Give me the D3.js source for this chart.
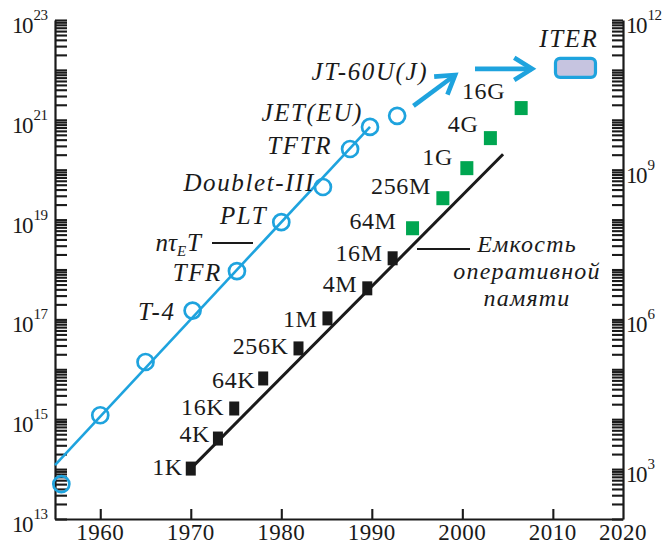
<!DOCTYPE html>
<html>
<head>
<meta charset="utf-8">
<script src="https://cdn.jsdelivr.net/npm/d3@7"></script>
<style>
  body { margin: 0; background: #fff; }
  svg text { font-family: "Liberation Serif", "Times New Roman", Times, serif; fill: #1a1a1a; }
</style>
</head>
<body>
<svg id="chart" width="664" height="546"></svg>
<script>
// ---- Fusion: triple product nτE·T of tokamaks by year ----
const fusionYears  = [1955.7, 1960, 1965, 1970.2, 1975.1, 1980, 1984.6, 1987.6, 1989.8, 1992.8];
const fusionValues = [5e13, 1.2e15, 1.4e16, 1.5e17, 9.3e17, 8.9e18, 4.5e19, 2.6e20, 7.2e20, 1.2e21];
const fusionNames  = ["", "", "", "T-4", "TFR", "PLT", "Doublet-III", "TFTR", "JET(EU)", "JT-60U(J)"];
const fusionTrendYears  = [1955, 1989.8];
const fusionTrendValues = [1.2e14, 7.2e20];

// Projection towards ITER
const forecastYears  = [[1994.6, 1999.2], [2001.4, 2007.7]];
const forecastValues = [[1.9e21, 7.9e21], [1.05e22, 1.05e22]];
const iterYear = 2012.5;
const iterValue = 1.1e22;

// ---- Memory: DRAM chip capacity (bits) by year ----
const memoryYears  = [1970, 1973, 1974.8, 1978, 1981.9, 1985.1, 1989.5, 1992.3, 1994.5, 1997.85, 2000.5, 2003.1, 2006.5];
const memoryLabels = ["1K", "4K", "16K", "64K", "256K", "1M", "4M", "16M", "64M", "256M", "1G", "4G", "16G"];
const memoryBits   = [1024, 4096, 16384, 65536, 262144, 1048576, 4194304, 16777216,
                      67108864, 268435456, 1073741824, 4294967296, 17179869184];
const memoryTrendYears  = [1970, 2004.5];
const memoryTrendValues = [1024, 2.04e9];

// ---- Axis ticks ----
const yearTicks  = [1960, 1970, 1980, 1990, 2000, 2010, 2020];
const leftLabelExps  = [13, 15, 17, 19, 21, 23];
const rightLabelExps = [3, 6, 9, 12];

// ---- Layout ----
const BLUE = "#1ea3de", GREEN = "#00a651", INK = "#1a1a1a";
const SERIF = '"Liberation Serif", "Times New Roman", Times, serif';
const svg = d3.select("#chart");
const x  = d3.scaleLinear().domain([1955, 2017.75]).range([55, 623]);
const xLabel = x.copy().clamp(true);
const yL = d3.scaleLog().domain([1e13, 1e23]).range([519, 20]);
const yR = d3.scaleLog().domain([1e2, 1e12]).range([519, 20]);
const [x0, x1] = x.range();

// log minor ticks for a decade range
function logTicks(lo, hi) {
  const out = [];
  for (let e = lo; e < hi; e++) for (let m = 1; m <= 9; m++) out.push(m * Math.pow(10, e));
  out.push(Math.pow(10, hi));
  return out;
}

// Left axis
const leftAxis = svg.append("g").attr("transform", `translate(${x0},0)`)
  .call(d3.axisRight(yL).tickValues(logTicks(13, 23)).tickSizeInner(12).tickSizeOuter(0).tickFormat(""));
// Right axis
const rightAxis = svg.append("g").attr("transform", `translate(${x1},0)`)
  .call(d3.axisLeft(yR).tickValues(logTicks(2, 12)).tickSizeInner(11).tickSizeOuter(0).tickFormat(""));
// Bottom axis
const bottomAxis = svg.append("g").attr("transform", `translate(0,${yL.range()[0]})`)
  .call(d3.axisTop(x).tickValues(yearTicks.filter(v => v <= x.domain()[1])).tickSizeInner(10).tickSizeOuter(0).tickFormat(""));

[leftAxis, rightAxis, bottomAxis].forEach(g => {
  g.attr("font-family", SERIF);
  g.select(".domain").attr("stroke", INK).attr("stroke-width", 2.2);
  g.selectAll(".tick line").attr("stroke", INK).attr("stroke-width", 2.1);
});

// Year labels
svg.append("g").selectAll("text").data(yearTicks).join("text")
  .attr("x", d => xLabel(d)).attr("y", 540)
  .attr("text-anchor", "middle").attr("font-size", 23).attr("letter-spacing", 0.5)
  .text(d => d);

// Power-of-ten labels
function powerLabel(g, xPos, yPos, exp) {
  const t = g.append("text").attr("x", xPos).attr("y", yPos + 13);
  t.append("tspan").attr("font-size", 23).attr("letter-spacing", -1.5).text("10");
  t.append("tspan").attr("font-size", 15).attr("letter-spacing", -0.5).attr("dx", 1.5).attr("dy", -13).text(exp);
}
const leftLabels = svg.append("g");
leftLabelExps.forEach(e => powerLabel(leftLabels, 12, yL(Math.pow(10, e)), e));
const rightLabels = svg.append("g");
rightLabelExps.forEach(e => powerLabel(rightLabels, x1 + 3, yR(Math.pow(10, e)), e));

// ---- Fusion series ----
const line = d3.line();
svg.append("path")
  .attr("d", line(fusionTrendYears.map((yr, i) => [x(yr), yL(fusionTrendValues[i])])))
  .attr("fill", "none").attr("stroke", BLUE).attr("stroke-width", 2.6);

svg.append("g").selectAll("circle").data(fusionYears).join("circle")
  .attr("cx", d => x(d)).attr("cy", (d, i) => yL(fusionValues[i])).attr("r", 8)
  .attr("fill", "none").attr("stroke", BLUE).attr("stroke-width", 2.7);

// label placement relative to each circle: [dx of text end, dy of text middle]
const fusionLabelNudge = [[0,0],[0,0],[0,0],[-17,1],[-15,1],[-14,-7],[-8,-5],[-18,-3.5],[-7,-14],[31,-44]];
svg.append("g").selectAll("text").data(fusionNames).join("text")
  .attr("x", (d, i) => x(fusionYears[i]) + fusionLabelNudge[i][0])
  .attr("y", (d, i) => yL(fusionValues[i]) + fusionLabelNudge[i][1] + 8.5)
  .attr("text-anchor", "end").attr("font-size", 25).attr("font-style", "italic")
  .attr("letter-spacing", 1.6)
  .text(d => d);

// Arrows towards ITER
function arrow(p, q) {
  const ang = Math.atan2(q[1] - p[1], q[0] - p[0]);
  const L = 21, a = 0.56;
  const h1 = [q[0] - L * Math.cos(ang - a), q[1] - L * Math.sin(ang - a)];
  const h2 = [q[0] - L * Math.cos(ang + a), q[1] - L * Math.sin(ang + a)];
  svg.append("path").attr("d", line([p, q])).attr("stroke", BLUE).attr("stroke-width", 4.6).attr("fill", "none");
  svg.append("path").attr("d", line([h1, q, h2])).attr("stroke", BLUE).attr("stroke-width", 4.6)
    .attr("fill", "none").attr("stroke-linejoin", "miter");
}
forecastYears.forEach((yrs, i) => {
  arrow([x(yrs[0]), yL(forecastValues[i][0])], [x(yrs[1]), yL(forecastValues[i][1])]);
});

// ITER box
const iterW = 40, iterH = 19;
svg.append("rect")
  .attr("x", x(iterYear) - iterW / 2).attr("y", yL(iterValue) - iterH / 2)
  .attr("width", iterW).attr("height", iterH).attr("rx", 4.5)
  .attr("fill", "#c6c4e0").attr("stroke", BLUE).attr("stroke-width", 3.2);
svg.append("text")
  .attr("x", x(iterYear) + iterW / 2 + 3).attr("y", yL(iterValue) - 21)
  .attr("text-anchor", "end").attr("font-size", 25).attr("font-style", "italic").attr("letter-spacing", 1.6)
  .text("ITER");

// nτE·T legend
const leg1 = svg.append("text").attr("x", 201).attr("y", 251).attr("text-anchor", "end")
  .attr("font-size", 25).attr("font-style", "italic");
leg1.append("tspan").text("nτ");
leg1.append("tspan").attr("font-size", 15).attr("dy", 5).text("E");
leg1.append("tspan").attr("dy", -5).attr("dx", 1).text("T");
svg.append("line").attr("x1", 212).attr("x2", 253).attr("y1", 243).attr("y2", 243)
  .attr("stroke", INK).attr("stroke-width", 2.2);

// ---- Memory series ----
svg.append("path")
  .attr("d", line(memoryTrendYears.map((yr, i) => [x(yr), yR(memoryTrendValues[i])])))
  .attr("fill", "none").attr("stroke", INK).attr("stroke-width", 3);

const isNew = b => b >= 67108864;
svg.append("g").selectAll("rect").data(memoryBits).join("rect")
  .attr("x", (d, i) => x(memoryYears[i]) - (isNew(d) ? 6.5 : 5))
  .attr("y", d => yR(d) - 7)
  .attr("width", d => isNew(d) ? 13 : 10).attr("height", 14)
  .attr("fill", d => isNew(d) ? GREEN : INK);

// label placement relative to each square: [dx of text end, dy of text middle]
const memoryLabelNudge = [[-8,-2],[-8,-5.5],[-10,-2.5],[-8,1.5],[-10,-3],[-10,0],[-10,-5],[-10,-5.6],
                          [-16,-8],[-12,-13],[-14,-12],[-12,-15],[-16,-18]];
svg.append("g").selectAll("text").data(memoryLabels).join("text")
  .attr("x", (d, i) => x(memoryYears[i]) + memoryLabelNudge[i][0])
  .attr("y", (d, i) => yR(memoryBits[i]) + memoryLabelNudge[i][1] + 8.5)
  .attr("text-anchor", "end").attr("font-size", 24).attr("letter-spacing", 0.6)
  .text(d => d);

// Memory legend
svg.append("line").attr("x1", 417).attr("x2", 470).attr("y1", 249).attr("y2", 249)
  .attr("stroke", INK).attr("stroke-width", 2.2);
svg.append("g").selectAll("text").data(["Емкость", "оперативной", "памяти"]).join("text")
  .attr("x", 527).attr("y", (d, i) => 252 + i * 27)
  .attr("text-anchor", "middle").attr("font-size", 24).attr("font-style", "italic").attr("letter-spacing", 1.2)
  .text(d => d);

svg.selectAll("text").attr("font-family", SERIF);
</script>
</body>
</html>
